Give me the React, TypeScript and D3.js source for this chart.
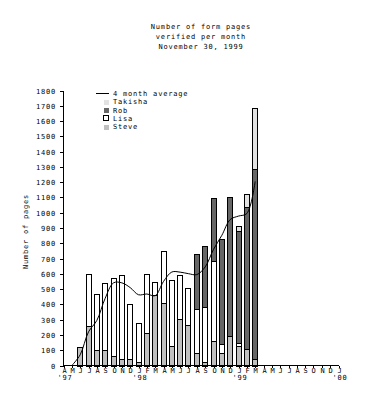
import React from "react";
import * as d3 from "d3";

const W = 368;
const H = 403;

const titleLines = ["Number of form pages", "verified per month", "November 30, 1999"];
const yAxisTitle = "Number of pages";

const monthLetters = ["A","M","J","J","A","S","O","N","D","J","F","M","A","M","J","J","A","S","O","N","D","J","F","M","A","M","J","J","A","S","O","N","D","J"];
const yearTickIndex = [0, 9, 21, 33];
const yearLabels = ["'97", "'98", "'99", "'00"];

// Apr 1997 .. Mar 1999 (24 months)
const steve = [0,0,120,260,100,100,65,45,45,25,210,460,410,125,305,265,80,25,160,85,190,125,105,45];
const lisa = [0,0,0,340,365,440,505,545,355,255,390,85,340,435,290,240,290,355,524,55,0,20,0,0];
const rob = [0,0,0,0,0,0,0,0,0,0,0,0,0,0,0,0,360,400,410,690,910,735,935,1240];
const takisha = [0,0,0,0,0,0,0,0,0,0,0,0,0,0,0,0,0,0,0,0,0,30,80,400];

// 4 month average, May 1997 .. Mar 1999
const avgStart = 1;
const avg = [0,70,220,295,440,541,541,510,463,468,457,550,612,611,601,595,645,760,852,955,978,995,1205];

const yTicks = d3.range(0, 1801, 100);

const seriesKeys = ["Steve", "Lisa", "Rob", "Takisha"];
const seriesColors: Record<string, string> = {
  Steve: "#c0c0c0",
  Lisa: "#ffffff",
  Rob: "#666666",
  Takisha: "#e2e2e2",
};
const legendOrder = ["Takisha", "Rob", "Lisa", "Steve"];

const FONT = "'DejaVu Sans Mono', monospace";
const FS = 7;
const LS = 0.8;

export default function App() {
  const x = d3.scaleLinear().domain([0, monthLetters.length - 1]).range([63.5, 338.5]);
  const y = d3.scaleLinear().domain([0, 1800]).range([365.5, 90.5]);

  const rows = steve.map((_, i) => ({
    i,
    Steve: steve[i],
    Lisa: lisa[i],
    Rob: rob[i],
    Takisha: takisha[i],
  }));
  const stacked = d3.stack<any>().keys(seriesKeys)(rows);

  const line = d3
    .line<number>()
    .x((_, k) => x(k + avgStart))
    .y((v) => y(v))
    .curve(d3.curveCatmullRom.alpha(0.5));

  const textStyle: React.CSSProperties = {
    fontFamily: FONT,
    fontSize: FS,
    letterSpacing: LS,
  };

  return (
    <svg
      width={W}
      height={H}
      style={{ position: "absolute", left: 0, top: 0, background: "#fff" }}
    >
      <rect x={0} y={0} width={W} height={H} fill="#fff" />
      {/* title */}
      {titleLines.map((t, k) => (
        <text key={k} x={201} y={28.5 + k * 10} textAnchor="middle" style={textStyle} fill="#000">
          {t}
        </text>
      ))}

      {/* bars */}
      {stacked.map((s) => (
        <g key={s.key}>
          {s.map((d, i) => {
            if (d[1] - d[0] <= 0) return null;
            const c = x(i);
            const left = Math.round(c - 3) + 0.5;
            const top = Math.round(y(d[1])) + 0.5;
            const bot = Math.round(y(d[0])) + 0.5;
            return (
              <rect
                key={i}
                x={left}
                y={top}
                width={5}
                height={Math.max(0, bot - top)}
                fill={seriesColors[s.key]}
                stroke="#000"
                strokeWidth={1}
                shapeRendering="crispEdges"
              />
            );
          })}
        </g>
      ))}

      {/* average line */}
      <path d={line(avg) || ""} fill="none" stroke="#000" strokeWidth={1} />

      {/* y axis */}
      <line x1={63.5} x2={63.5} y1={y(1800)} y2={y(0)} stroke="#000" shapeRendering="crispEdges" />
      {yTicks.map((t) => {
        const yy = Math.round(y(t)) + 0.5;
        return (
          <g key={t}>
            <line x1={59.5} x2={63.5} y1={yy} y2={yy} stroke="#000" shapeRendering="crispEdges" />
            <text x={56} y={yy + 2.5} textAnchor="end" style={textStyle} fill="#000">
              {t}
            </text>
          </g>
        );
      })}
      <text
        transform={`translate(27.5,231.5) rotate(-90)`}
        textAnchor="middle"
        style={textStyle}
        fill="#000"
      >
        {yAxisTitle}
      </text>

      {/* x axis */}
      <line x1={63.5} x2={x(monthLetters.length - 1)} y1={365.5} y2={365.5} stroke="#000" shapeRendering="crispEdges" />
      {monthLetters.map((m, i) => {
        const xx = Math.round(x(i)) + 0.5;
        return (
          <g key={i}>
            <line x1={xx} x2={xx} y1={365.5} y2={368} stroke="#000" shapeRendering="crispEdges" />
            <text x={xx + 0.5} y={372.5} textAnchor="middle" style={textStyle} fill="#000">
              {m}
            </text>
          </g>
        );
      })}
      {yearTickIndex.map((idx, k) => (
        <text key={k} x={x(idx) - 6} y={380} textAnchor="start" style={textStyle} fill="#000">
          {yearLabels[k]}
        </text>
      ))}

      {/* legend */}
      <line x1={96} x2={109} y1={93.5} y2={93.5} stroke="#000" shapeRendering="crispEdges" />
      <text x={113} y={95.5} style={textStyle} fill="#000">4 month average</text>
      {legendOrder.map((k, j) => {
        const cy = 101.8 + j * 8.3;
        return (
          <g key={k}>
            <rect
              x={103.5}
              y={Math.round(cy - 3) + 0.5}
              width={5}
              height={5}
              fill={seriesColors[k]}
              stroke={k === "Lisa" ? "#000" : "none"}
              shapeRendering="crispEdges"
            />
            <text x={113} y={cy + 2.5} style={textStyle} fill="#000">
              {k}
            </text>
          </g>
        );
      })}
    </svg>
  );
}
